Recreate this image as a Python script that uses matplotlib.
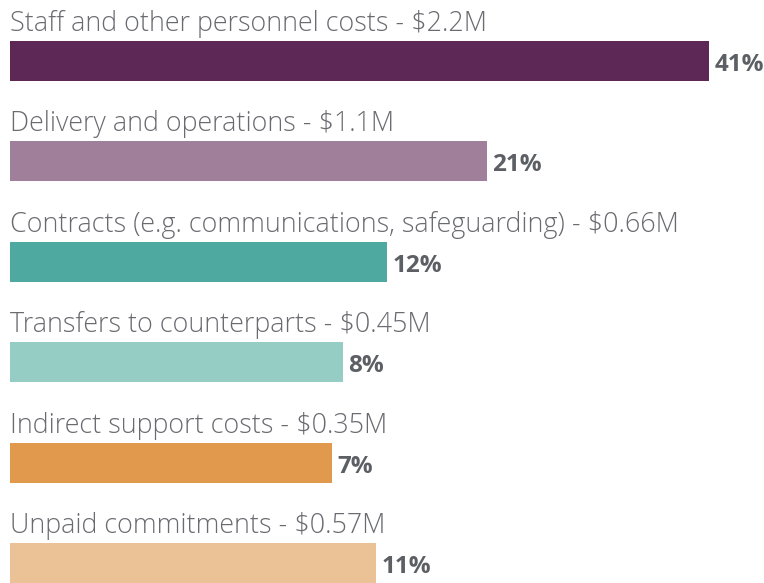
import matplotlib
matplotlib.use("Agg")
import matplotlib.pyplot as plt
from matplotlib import font_manager

categories = [
    "Staff and other personnel costs",
    "Delivery and operations",
    "Contracts (e.g. communications, safeguarding)",
    "Transfers to counterparts",
    "Indirect support costs",
    "Unpaid commitments",
]
amounts = ["$2.2M", "$1.1M", "$0.66M", "$0.45M", "$0.35M", "$0.57M"]
shares = [41, 21, 12, 8, 7, 11]
colors = ["#5e2856", "#a07f9b", "#4eaaa0", "#95cdc5", "#e0994d", "#ebc295"]

names = {f.name for f in font_manager.fontManager.ttflist}
fam = "Open Sans" if "Open Sans" in names else "DejaVu Sans"

W, H = 764, 583
fig = plt.figure(figsize=(W / 100, H / 100), dpi=100)
ax = fig.add_axes([0, 0, 1, 1])

# bars start from a fixed baseline so that small shares stay readable
base = -22.0
px = 11.1  # pixels per percentage point
x_left = base - 10 / px
ax.set_xlim(x_left, x_left + W / px)

row = 100.4
top = 61
ax.set_ylim((H - top) / row, -top / row)
bh = 40 / row

for i, (cat, amt, s, c) in enumerate(zip(categories, amounts, shares, colors)):
    ax.barh(i, s - base, left=base, height=bh, color=c, linewidth=0)
    ax.text(base, i - bh / 2 - 10 / row, f"{cat} - {amt}", ha="left", va="baseline",
            fontsize=19.4, color="#6a6b70", family=fam, fontweight="light")
    ax.text(s + 5 / px, i + 4 / row, f"{s}%", ha="left", va="center",
            fontsize=17.5, color="#5c5f64", family=fam, fontweight="bold")

ax.axis("off")
fig.savefig("out.png", dpi=100)
